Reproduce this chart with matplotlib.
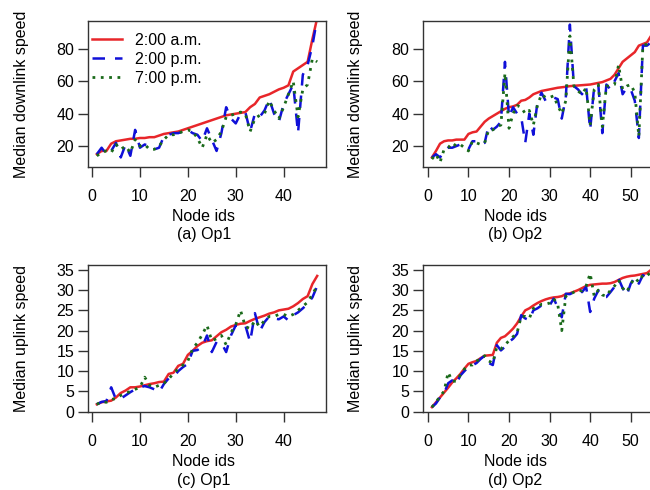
import numpy as np
import matplotlib
matplotlib.use("Agg")
import matplotlib.pyplot as plt

plt.rcParams['font.family'] = ['Liberation Sans', 'DejaVu Sans']

# Op1 downlink (47 nodes)
red_a = [15, 17, 17, 21.5, 23, 23.5, 24, 24.5, 24.5, 25, 25, 25.5, 25.5, 26.5, 27.5, 28,
         28.5, 29, 30, 31, 32, 33, 34, 35, 36, 37, 38, 39, 39.5, 40, 40.5, 41, 44, 46, 50,
         51, 52, 53.5, 55, 56, 57.5, 66, 68, 70, 72, 86, 99]
blue_a = [15, 19, 15, 17, 22, 13, 21, 14, 30, 19, 21, 20, 18, 19, 26, 27, 28, 28, 29, 30,
          28, 27, 23, 31, 24, 17, 28, 44, 37, 34, 40, 41, 29, 40, 38, 42, 49, 40, 35, 46,
          52, 58, 28, 64, 70, 82, 99]
green_a = [14, 16, 17, 16, 21, 18, 20, 16, 24, 20, 21, 18, 18, 20, 24, 27, 27, 28, 29, 30,
           29, 25, 19, 27, 22, 24, 29, 38, 39, 40, 41, 40, 29, 37, 39, 40, 48, 42, 37, 44,
           52, 60, 38, 55, 58, 74, 72]

# Op2 downlink (56 nodes)
red_b = [13, 17, 21.5, 23, 23.5, 23.5, 24, 24, 24, 27.5, 28.5, 29, 32, 35, 37, 38.5, 40,
         41.5, 43, 44, 44.5, 45.5, 48, 48.5, 50, 52, 53, 54, 54.5, 55, 55.5, 56, 56.3, 56.6,
         57, 57.2, 57.4, 57.6, 57.8, 58, 58.5, 59, 59.5, 60.5, 61.5, 64, 68, 72, 74, 76, 78,
         82, 83, 84, 88, 92]
blue_b = [13, 15, 13, 17, 19, 19, 20, 21, 20, 18, 23, 23, 21, 22, 33, 30, 32, 35, 72, 38,
          44, 40, 38, 22, 40, 27, 47, 53, 48, 48, 50, 49, 37, 50, 95, 57, 55, 52, 57, 30,
          57, 58, 28, 58, 55, 60, 65, 52, 56, 55, 48, 25, 82, 82, 84, 90]
green_b = [12, 15, 10, 18, 19, 22, 20, 21, 19, 17, 23, 22, 21, 22, 30, 30, 32, 33, 65, 31,
           40, 45, 44, 40, 42, 33, 45, 52, 50, 50, 51, 45, 40, 48, 88, 57, 54, 52, 56, 33,
           55, 58, 32, 57, 57, 58, 70, 55, 57, 58, 53, 26, 82, 83, 85, 90]

# Op1 uplink (47 nodes)
red_c = [1.8, 2.3, 2.5, 2.7, 3.5, 4.6, 5.2, 6.0, 6.0, 6.2, 6.5, 6.8, 7.0, 7.3, 7.4, 9.3,
         9.6, 11.3, 11.8, 14.0, 15.0, 16.2, 17.0, 17.4, 17.6, 18.6, 19.6, 20.2, 21.0, 21.4,
         21.7, 21.8, 22.4, 22.9, 23.3, 23.7, 24.2, 24.5, 25.0, 25.2, 25.4, 26.0, 26.8, 27.8,
         28.5, 31.5, 33.5]
blue_c = [1.8, 2.4, 2.6, 6.0, 3.0, 3.2, 4.0, 4.8, 5.5, 6.0, 6.3, 6.0, 5.5, 4.8, 6.8, 8.2,
          8.5, 10.0, 11.0, 11.8, 15.0, 15.2, 16.0, 18.8, 14.7, 17.2, 17.0, 14.7, 18.8, 21.3,
          21.0, 21.3, 17.2, 24.3, 19.8, 22.1, 23.5, 23.0, 22.8, 23.5, 22.5, 23.8, 24.5, 25.5,
          26.6, 28.2, 31.0]
green_c = [1.8, 2.4, 2.3, 3.0, 3.2, 4.0, 4.5, 5.0, 5.5, 6.0, 8.5, 6.5, 6.0, 6.5, 7.0, 8.0,
           9.5, 10.5, 11.5, 12.5, 15.5, 17.0, 19.0, 21.3, 17.5, 18.0, 18.8, 16.5, 19.5, 21.5,
           25.0, 21.0, 20.5, 22.5, 21.0, 22.5, 23.5, 23.5, 24.0, 24.0, 23.5, 24.0, 25.0, 26.0,
           27.0, 29.0, 31.0]

# Op2 uplink (56 nodes)
red_d = [1.1, 2.3, 3.5, 4.7, 5.9, 7.2, 8.2, 9.3, 10.6, 11.8, 12.2, 12.5, 13.2, 13.8, 13.9,
         14.0, 17.0, 18.2, 18.6, 19.5, 20.5, 21.8, 23.5, 25.0, 25.5, 26.2, 26.8, 27.3, 27.7,
         28.0, 28.2, 28.3, 28.5, 29.0, 29.2, 29.6, 30.0, 30.5, 31.0, 31.3, 31.4, 31.5, 31.6,
         31.6, 31.7, 32.0, 32.5, 33.0, 33.3, 33.5, 33.6, 33.8, 34.0, 34.2, 35.0, 35.8]
blue_d = [1.1, 2.0, 3.5, 4.5, 7.0, 7.7, 6.8, 8.9, 10.0, 11.0, 11.4, 12.0, 13.0, 13.8, 12.0,
          11.5, 16.4, 15.1, 16.0, 17.2, 18.0, 19.2, 23.8, 23.0, 22.6, 25.0, 25.5, 26.2, 26.5,
          26.2, 27.9, 25.8, 23.3, 29.1, 29.0, 29.5, 30.0, 29.5, 30.8, 24.6, 27.9, 29.9, 28.3,
          28.3, 29.5, 30.8, 32.8, 30.5, 28.7, 31.6, 33.2, 31.6, 33.7, 33.0, 34.5, 35.0]
green_d = [1.1, 2.3, 3.8, 5.0, 9.7, 7.5, 7.5, 9.0, 10.5, 11.5, 11.5, 12.5, 13.0, 13.8, 12.5,
           12.0, 16.0, 15.5, 16.5, 17.5, 18.5, 19.5, 23.5, 23.5, 23.0, 25.5, 25.8, 26.5, 26.5,
           26.8, 27.9, 26.5, 20.0, 28.5, 29.0, 29.5, 30.0, 29.8, 31.0, 34.1, 28.5, 30.0, 28.8,
           28.5, 30.0, 31.0, 32.5, 30.5, 29.5, 31.5, 33.0, 32.0, 33.7, 33.5, 34.5, 35.0]

labels = ["2:00 a.m.", "2:00 p.m.", "7:00 p.m."]
captions = ["(a) Op1", "(b) Op2", "(c) Op1", "(d) Op2"]

fig = plt.figure(figsize=(6.5, 4.9), dpi=100)
W, H = 650.0, 490.0

def make_ax(left, top, right, bottom):
    return fig.add_axes([left / W, 1 - bottom / H, (right - left) / W, (bottom - top) / H])

panels = [
    (make_ax(88, 21, 326, 167), red_a, blue_a, green_a, (-0.84, 48.84), (7.1, 97.2),
     [0, 10, 20, 30, 40], [20, 40, 60, 80], "Median downlink speed", 0.487),
    (make_ax(423, 21, 664, 167), red_b, blue_b, green_b, (-1.2, 58.2), (7.1, 97.2),
     [0, 10, 20, 30, 40, 50], [20, 40, 60, 80], "Median downlink speed", 0.382),
    (make_ax(88, 265, 326, 412), red_c, blue_c, green_c, (-0.84, 48.84), (-0.1, 36.2),
     [0, 10, 20, 30, 40], list(range(0, 36, 5)), "Median uplink speed", 0.487),
    (make_ax(423, 265, 664, 412), red_d, blue_d, green_d, (-1.2, 58.2), (-0.1, 36.2),
     [0, 10, 20, 30, 40, 50], list(range(0, 36, 5)), "Median uplink speed", 0.382),
]

fs = 11.5
for k, (ax, r, b, g, xl, yl, xt, yt, ylab, xc) in enumerate(panels):
    n = np.arange(1, len(r) + 1)
    ax.plot(n, r, color='#e8262a', lw=1.8, label=labels[0])
    ax.plot(n, b, color='#1010d8', lw=1.8, ls=(0, (5, 4)), label=labels[1])
    ax.plot(n, g, color='#1a6a1a', lw=2.0, ls=(0, (1, 2)), label=labels[2])
    ax.set_xlim(*xl)
    ax.set_ylim(*yl)
    ax.set_xticks(xt)
    ax.set_yticks(yt)
    ax.tick_params(direction='out', length=7, width=1, labelsize=fs, color='#333333')
    ax.tick_params(axis='x', pad=9)
    ax.tick_params(axis='y', pad=3)
    for s in ax.spines.values():
        s.set_color('#333333')
        s.set_linewidth(1)
    ax.set_ylabel(ylab, fontsize=fs)
    ax.yaxis.label.set_verticalalignment('center')
    ax.yaxis.set_label_coords(-0.28, 0.5)
    ax.set_xlabel("Node ids", fontsize=fs)
    ax.xaxis.label.set_verticalalignment('center')
    ax.xaxis.set_label_coords(xc, -0.34)
    ax.text(xc, -0.465, captions[k], transform=ax.transAxes, ha='center', va='center',
            fontsize=fs)

panels[0][0].legend(loc='upper left', bbox_to_anchor=(0.017, 0.918), frameon=False,
                    fontsize=fs, handlelength=1.85, handletextpad=0.85, labelspacing=0.25,
                    borderaxespad=0, borderpad=0)

fig.savefig("out.png", dpi=100)
